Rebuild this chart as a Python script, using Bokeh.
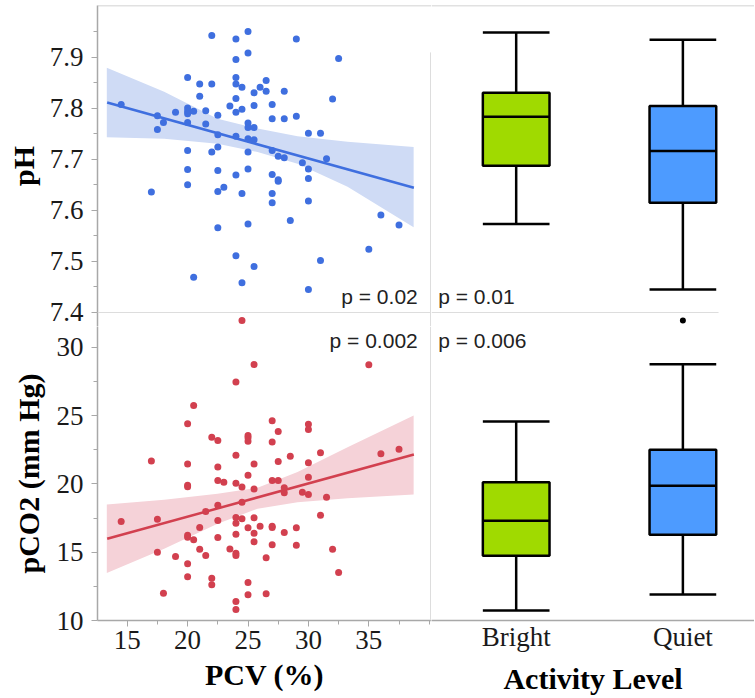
from bokeh.plotting import figure
from bokeh.layouts import gridplot
from bokeh.models import Range1d, FixedTicker, Span, Label
from bokeh.embed import file_html
from bokeh.resources import INLINE

# ---------------- data ----------------
pcv_ph = [14.5, 17.0, 17.5, 17.5, 18.0, 19.0, 20, 20, 20, 20, 20, 20, 20, 20,
          20.5, 20.5, 21, 21, 21.5, 21.5, 22, 22, 22, 22.5, 22.5, 22.5, 22.5, 22.5, 22.5,
          23, 23.5, 24, 24, 24, 24, 24, 24, 24, 24, 24, 24.5, 24.5, 24.5, 24.5,
          25, 25, 25, 25, 25, 25, 25, 25, 25.5, 25.5, 25.5, 25.5, 25.5, 26, 26.5, 26.5,
          27, 27, 27, 27, 27, 27, 27.5, 27.5, 27.5, 28, 28, 28, 28.5, 29, 29, 29.5,
          30, 30, 30, 30, 30, 31, 31, 31.5, 32, 32.5, 35, 36, 37.5]
ph = [7.807, 7.636, 7.785, 7.758, 7.772, 7.792, 7.860, 7.800, 7.794, 7.789, 7.772, 7.717, 7.680, 7.650,
      7.794, 7.469, 7.847, 7.823, 7.795, 7.769, 7.942, 7.847, 7.714, 7.786, 7.748, 7.724, 7.678, 7.637, 7.566,
      7.645, 7.804, 7.935, 7.895, 7.860, 7.847, 7.819, 7.792, 7.745, 7.669, 7.511, 7.841, 7.798, 7.633, 7.458,
      7.950, 7.908, 7.771, 7.762, 7.740, 7.714, 7.681, 7.573, 7.830, 7.805, 7.762, 7.738, 7.490, 7.841, 7.854, 7.833,
      7.807, 7.779, 7.717, 7.670, 7.633, 7.615, 7.706, 7.660, 7.657, 7.833, 7.779, 7.703, 7.580, 7.935, 7.784, 7.693,
      7.751, 7.681, 7.662, 7.618, 7.445, 7.751, 7.502, 7.701, 7.818, 7.897, 7.524, 7.591, 7.571]

pcv_co2 = [14.5, 17.0, 17.5, 17.5, 18, 19, 20, 20, 20, 20, 20, 20, 20, 20,
           20.5, 20.5, 21, 21, 21.5, 21.5, 22, 22, 22, 22.5, 22.5, 22.5, 22.5, 22.5, 22.5,
           23, 23.5, 24, 24, 24, 24, 24, 24, 24, 24, 24, 24, 24.5, 24.5, 24.5, 24.5,
           25, 25, 25, 25, 25, 25, 25, 25.5, 25.5, 25.5, 25.5, 25.5, 25.5, 26, 26.5, 26.5,
           27, 27, 27, 27, 27, 27, 27.5, 27.5, 27.5, 28, 28, 28, 28.5, 29, 29, 29.5,
           30, 30, 30, 30, 30, 31, 31, 31.5, 32, 32.5, 35, 36, 37.5]
pco2 = [17.24, 21.68, 17.41, 15.00, 12.00, 14.68, 24.39, 21.46, 19.90, 19.78, 16.24, 16.10, 14.15, 13.20,
        25.73, 15.90, 16.80, 15.22, 17.98, 14.76, 23.41, 13.10, 12.61, 23.17, 21.24, 20.24, 18.44, 17.32, 16.07,
        20.12, 15.24, 27.46, 22.10, 20.05, 17.54, 17.12, 16.32, 14.93, 14.76, 11.39, 10.80, 31.95, 19.76, 18.66, 17.44,
        23.54, 23.37, 23.12, 20.63, 16.78, 12.78, 11.88, 28.73, 21.46, 19.63, 17.51, 16.39, 15.76, 16.90, 14.59, 11.95,
        24.61, 23.07, 20.24, 16.90, 16.80, 15.54, 23.83, 21.63, 20.24, 19.71, 19.34, 16.44, 22.02, 16.78, 15.51, 19.39,
        24.37, 23.98, 21.54, 20.49, 19.22, 22.27, 17.71, 19.02, 15.22, 13.51, 28.71, 22.20, 22.54]

fit_x = [13.34, 38.73]
ph_fit = [7.811, 7.644]
co2_fit = [15.98, 22.15]

band_x = [13.31, 18.06, 22.48, 25.79, 29.1, 33.24, 38.71]
ph_band_hi = [7.879, 7.832, 7.779, 7.760, 7.745, 7.734, 7.724]
ph_band_lo = [7.743, 7.740, 7.730, 7.714, 7.691, 7.646, 7.567]
co2_band_hi = [18.49, 18.84, 19.28, 19.71, 20.86, 22.68, 25.00]
co2_band_lo = [13.47, 15.25, 17.08, 18.18, 18.66, 18.95, 19.22]

categories = ["Bright", "Quiet"]
box_colors = ["#a0da00", "#4d9bff"]
ph_lo = [7.573, 7.445]
ph_q1 = [7.687, 7.615]
ph_med = [7.783, 7.716]
ph_q3 = [7.830, 7.804]
ph_hi = [7.948, 7.934]
co2_lo = [10.74, 11.90]
co2_q1 = [14.74, 16.27]
co2_med = [17.30, 19.86]
co2_q3 = [20.12, 22.50]
co2_hi = [24.56, 28.76]
co2_out_cat = ["Quiet"]
co2_out = [31.95]

pcv_ticks = [15, 20, 25, 30, 35]
pcv_minor = [12.5, 17.5, 22.5, 27.5, 32.5, 37.5, 40]
ph_ticks = [7.4, 7.5, 7.6, 7.7, 7.8, 7.9]
ph_minor = [7.45, 7.55, 7.65, 7.75, 7.85, 7.95]
co2_ticks = [10, 15, 20, 25, 30]
co2_minor = [12.5, 17.5, 22.5, 27.5]

p_texts_top = ["p = 0.02", "p = 0.01"]
p_texts_bot = ["p = 0.002", "p = 0.006"]

# ---------------- styles ----------------
SERIF = "Liberation Serif"
SANS = "Liberation Sans"
AX_GRAY = "#a8a8a8"
DIV_GRAY = "#dddddd"
TOP_GRAY = "#c4c4c4"
BLUE = "#3f6fdf"
BLUE_BAND = "#cfdbf5"
RED = "#d2404f"
RED_BAND = "#f5d2d8"

pos = [i + 0.5 for i in range(len(categories))]
cat_pos = dict(zip(categories, pos))
BW = 0.40

x_pcv = Range1d(12.54, 40.189)
ph_range = Range1d(7.3726, 8.0008)
co2_top_range = Range1d(31.514, 54.996)
co2_range = Range1d(10.0, 31.514)
x_cat = Range1d(-0.008, 1.9296)

LEFT_FW = 334
RIGHT_FW = 323
TOP_FH = 321
BOT_FH = 294
BOT_BORDER = 76


def base(fig):
    fig.grid.visible = False
    fig.outline_line_color = None
    fig.background_fill_color = "white"
    fig.border_fill_color = "white"
    return fig


def style_axis(ax):
    ax.axis_line_color = AX_GRAY
    ax.axis_line_width = 1.5
    ax.major_tick_line_color = AX_GRAY
    ax.minor_tick_line_color = AX_GRAY
    ax.major_tick_out = 6
    ax.major_tick_in = 0
    ax.minor_tick_out = 4
    ax.minor_tick_in = 0
    ax.major_label_text_font = SERIF
    ax.major_label_text_font_size = "27px"
    ax.major_label_text_color = "#1a1a1a"
    ax.axis_label_text_font = SERIF
    ax.axis_label_text_font_size = "30px"
    ax.axis_label_text_font_style = "bold"
    ax.axis_label_text_color = "black"


def p_label(x, y, text, align):
    return Label(x=x, y=y, text=text, text_align=align, text_baseline="alphabetic",
                 text_font=SANS, text_font_size="21px", text_color="#222222")


# ---------- top-left: pH vs PCV ----------
tl = figure(frame_width=LEFT_FW, frame_height=TOP_FH, x_range=x_pcv, y_range=ph_range,
            x_axis_location=None, y_axis_location="left",
            min_border_left=97, min_border_right=0, min_border_top=5, min_border_bottom=0,
            output_backend="svg", toolbar_location=None)
base(tl)
tl.extra_y_ranges = {"co2": co2_top_range}
ya = tl.yaxis[0]
style_axis(ya)
ya.ticker = FixedTicker(ticks=ph_ticks, minor_ticks=ph_minor)
ya.axis_label = "pH"
ya.major_label_standoff = 8
ya.axis_label_standoff = 7

tl.add_layout(Span(location=ph_range.end, dimension="width", line_color=TOP_GRAY, line_width=1.5))
tl.add_layout(Span(location=7.4, dimension="width", line_color=DIV_GRAY, line_width=1))
tl.segment(x0=[40.107], y0=[ph_range.start], x1=[40.107], y1=[7.909], line_color=DIV_GRAY, line_width=1)
tl.varea(x=band_x, y1=ph_band_lo, y2=ph_band_hi, fill_color=BLUE_BAND, fill_alpha=1.0)
tl.line(x=fit_x, y=ph_fit, line_color=BLUE, line_width=2.5)
tl.scatter(x=pcv_ph, y=ph, size=7, fill_color=BLUE, line_color=None)
tl.scatter(x=pcv_co2, y=pco2, size=7, fill_color=RED, line_color=None, y_range_name="co2")
tl.add_layout(p_label(39.05, 7.432, p_texts_top[0], "right"))

# ---------- top-right: pH by activity ----------
tr = figure(frame_width=RIGHT_FW, frame_height=TOP_FH, x_range=x_cat, y_range=ph_range,
            x_axis_location=None, y_axis_location=None,
            min_border_left=0, min_border_right=0, min_border_top=5, min_border_bottom=0,
            output_backend="svg", toolbar_location=None)
base(tr)
tr.extra_y_ranges = {"co2": co2_top_range}
tr.add_layout(Span(location=ph_range.end, dimension="width", line_color=TOP_GRAY, line_width=1.5))
tr.segment(x0=[x_cat.start], y0=[7.4], x1=[1.714], y1=[7.4], line_color=DIV_GRAY, line_width=1)
tr.segment(x0=pos, y0=ph_q3, x1=pos, y1=ph_hi, line_color="black", line_width=2.5)
tr.segment(x0=pos, y0=ph_lo, x1=pos, y1=ph_q1, line_color="black", line_width=2.5)
tr.segment(x0=[p - BW / 2 for p in pos], y0=ph_hi, x1=[p + BW / 2 for p in pos], y1=ph_hi,
           line_color="black", line_width=2.5)
tr.segment(x0=[p - BW / 2 for p in pos], y0=ph_lo, x1=[p + BW / 2 for p in pos], y1=ph_lo,
           line_color="black", line_width=2.5)
tr.vbar(x=pos, width=BW, bottom=ph_q1, top=ph_q3, fill_color=box_colors,
        line_color="black", line_width=2.5)
tr.segment(x0=[p - BW / 2 for p in pos], y0=ph_med, x1=[p + BW / 2 for p in pos], y1=ph_med,
           line_color="black", line_width=2.5)
tr.scatter(x=[cat_pos[c] for c in co2_out_cat], y=co2_out, size=6, fill_color="black",
           line_color=None, y_range_name="co2")
tr.add_layout(p_label(0.032, 7.432, p_texts_top[1], "left"))

# ---------- bottom-left: pCO2 vs PCV ----------
bl = figure(frame_width=LEFT_FW, frame_height=BOT_FH, x_range=x_pcv, y_range=co2_range,
            x_axis_location="below", y_axis_location="left",
            min_border_left=97, min_border_right=0, min_border_top=0, min_border_bottom=BOT_BORDER,
            output_backend="svg", toolbar_location=None)
base(bl)
xa = bl.xaxis[0]
style_axis(xa)
xa.ticker = FixedTicker(ticks=pcv_ticks, minor_ticks=pcv_minor)
xa.axis_label = "PCV (%)"
xa.major_label_standoff = 4
xa.axis_label_standoff = 6
ya2 = bl.yaxis[0]
style_axis(ya2)
ya2.ticker = FixedTicker(ticks=co2_ticks, minor_ticks=co2_minor)
ya2.axis_label = "pCO2 (mm Hg)"
ya2.major_label_standoff = 8
ya2.axis_label_standoff = 9

bl.add_layout(Span(location=40.107, dimension="height", line_color=DIV_GRAY, line_width=1))
bl.varea(x=band_x, y1=co2_band_lo, y2=co2_band_hi, fill_color=RED_BAND, fill_alpha=1.0)
bl.line(x=fit_x, y=co2_fit, line_color=RED, line_width=2.5)
bl.scatter(x=pcv_co2, y=pco2, size=7, fill_color=RED, line_color=None)
bl.add_layout(p_label(39.05, 30.46, p_texts_bot[0], "right"))

# ---------- bottom-right: pCO2 by activity ----------
br = figure(frame_width=RIGHT_FW, frame_height=BOT_FH, x_range=x_cat, y_range=co2_range,
            x_axis_location="below", y_axis_location=None,
            min_border_left=0, min_border_right=0, min_border_top=0, min_border_bottom=BOT_BORDER,
            output_backend="svg", toolbar_location=None)
base(br)
xb = br.xaxis[0]
style_axis(xb)
xb.ticker = FixedTicker(ticks=pos, minor_ticks=[])
xb.major_label_overrides = {p: c for p, c in zip(pos, categories)}
xb.major_tick_out = 0
xb.major_label_standoff = 1
xb.axis_label = "Activity Level"
xb.axis_label_standoff = 7

br.segment(x0=pos, y0=co2_q3, x1=pos, y1=co2_hi, line_color="black", line_width=2.5)
br.segment(x0=pos, y0=co2_lo, x1=pos, y1=co2_q1, line_color="black", line_width=2.5)
br.segment(x0=[p - BW / 2 for p in pos], y0=co2_hi, x1=[p + BW / 2 for p in pos], y1=co2_hi,
           line_color="black", line_width=2.5)
br.segment(x0=[p - BW / 2 for p in pos], y0=co2_lo, x1=[p + BW / 2 for p in pos], y1=co2_lo,
           line_color="black", line_width=2.5)
br.vbar(x=pos, width=BW, bottom=co2_q1, top=co2_q3, fill_color=box_colors,
        line_color="black", line_width=2.5)
br.segment(x0=[p - BW / 2 for p in pos], y0=co2_med, x1=[p + BW / 2 for p in pos], y1=co2_med,
           line_color="black", line_width=2.5)
br.scatter(x=[cat_pos[c] for c in co2_out_cat], y=co2_out, size=6, fill_color="black", line_color=None)
br.add_layout(p_label(0.032, 30.46, p_texts_bot[1], "left"))

grid = gridplot([[tl, tr], [bl, br]], toolbar_location=None)

open("out.html", "w").write(file_html(grid, INLINE))
